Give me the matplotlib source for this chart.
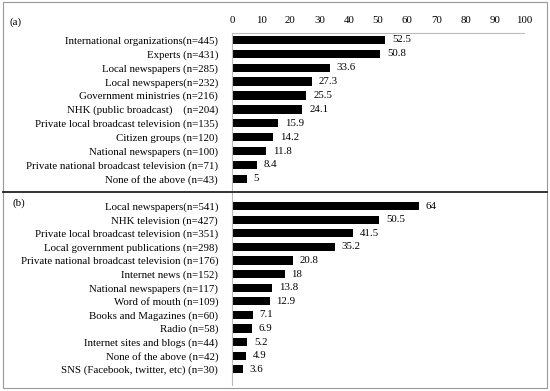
import matplotlib
matplotlib.use("Agg")
import matplotlib.pyplot as plt
from matplotlib.lines import Line2D
from matplotlib.patches import Rectangle

cats_a = ["International organizations(n=445)", "Experts (n=431)", "Local newspapers (n=285)",
          "Local newspapers(n=232)", "Government ministries (n=216)", "NHK (public broadcast)\u3000(n=204)",
          "Private local broadcast television (n=135)", "Citizen groups (n=120)",
          "National newspapers (n=100)", "Private national broadcast television (n=71)",
          "None of the above (n=43)"]
vals_a = [52.5, 50.8, 33.6, 27.3, 25.5, 24.1, 15.9, 14.2, 11.8, 8.4, 5]
lbls_a = ["52.5", "50.8", "33.6", "27.3", "25.5", "24.1", "15.9", "14.2", "11.8", "8.4", "5"]

cats_b = ["Local newspapers(n=541)", "NHK television (n=427)", "Private local broadcast television (n=351)",
          "Local government publications (n=298)", "Private national broadcast television (n=176)",
          "Internet news (n=152)", "National newspapers (n=117)", "Word of mouth (n=109)",
          "Books and Magazines (n=60)", "Radio (n=58)", "Internet sites and blogs (n=44)",
          "None of the above (n=42)", "SNS (Facebook, twitter, etc) (n=30)"]
vals_b = [64, 50.5, 41.5, 35.2, 20.8, 18, 13.8, 12.9, 7.1, 6.9, 5.2, 4.9, 3.6]
lbls_b = ["64", "50.5", "41.5", "35.2", "20.8", "18", "13.8", "12.9", "7.1", "6.9", "5.2", "4.9", "3.6"]

xticks = [0, 10, 20, 30, 40, 50, 60, 70, 80, 90, 100]

plt.rcParams['font.family'] = ['Noto Sans CJK JP', 'Liberation Serif']
serif = ['Liberation Serif', 'Noto Sans CJK JP']
FS = 7.8

W, H = 550, 391
fig = plt.figure(figsize=(5.5, 3.91), dpi=100)

x0, x1 = 232 / W, 524 / W

def add_ax(top_px, bot_px):
    return fig.add_axes([x0, 1 - bot_px / H, x1 - x0, (bot_px - top_px) / H])

ax_a = add_ax(33, 190)
ax_b = add_ax(193, 385)

for ax, cats, vals, lbls, ylim in [(ax_a, cats_a, vals_a, lbls_a, (10.8, -0.5)),
                                   (ax_b, cats_b, vals_b, lbls_b, (13.16, -0.96))]:
    y = list(range(len(cats)))
    ax.barh(y, vals, height=0.6, color='black')
    ax.set_xlim(0, 100)
    ax.set_ylim(*ylim)
    ax.set_yticks(y)
    ax.set_yticklabels(cats, family=serif, fontsize=FS)
    ax.tick_params(axis='y', length=0, pad=10)
    for s in ['top', 'right', 'bottom']:
        ax.spines[s].set_visible(False)
    ax.spines['left'].set_color('#bbbbbb')
    ax.spines['left'].set_linewidth(0.8)
    for v, yy, t in zip(vals, y, lbls):
        ax.text(v + 2.3, yy, t, va='center', ha='left', family=serif, fontsize=FS)

ax_a.xaxis.tick_top()
ax_a.set_xticks(xticks)
ax_a.set_xticklabels([str(t) for t in xticks], family=serif, fontsize=FS)
ax_a.tick_params(axis='x', length=0, pad=6)
ax_a.spines['top'].set_visible(True)
ax_a.spines['top'].set_color('#bbbbbb')
ax_a.spines['top'].set_linewidth(0.8)
ax_b.set_xticks([])

# figure border and separator
fig.add_artist(Rectangle((3 / W, 1 - 388 / H), 544 / W, 386 / H, transform=fig.transFigure,
                         fill=False, edgecolor='#999999', linewidth=0.8))
fig.add_artist(Line2D([3 / W, 547 / W], [1 - 192 / H, 1 - 192 / H], transform=fig.transFigure,
                      color='#222222', linewidth=1.3))

fig.text(10 / W, 1 - 22 / H, "(a)", family=serif, fontsize=FS, va='center', ha='left')
fig.text(12 / W, 1 - 203 / H, "(b)", family=serif, fontsize=FS, va='center', ha='left')

fig.savefig("out.png", dpi=100)
